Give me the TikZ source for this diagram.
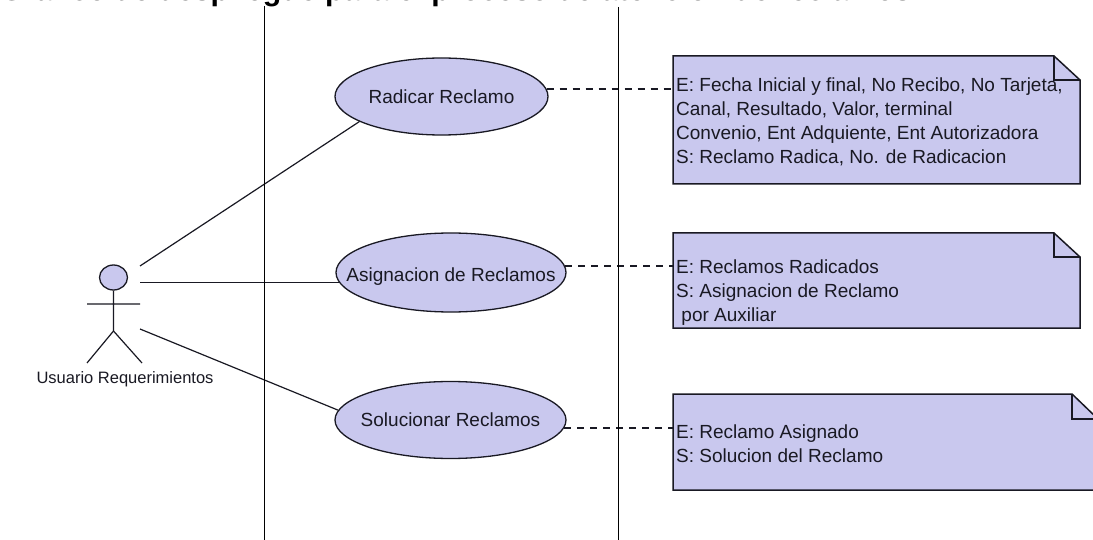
\documentclass[tikz,border=0pt]{standalone}
\usepackage{fontspec}
\setmainfont{Liberation Sans}
\usetikzlibrary{shapes.geometric}
\definecolor{umlfill}{RGB}{201,200,238}
\definecolor{umlline}{RGB}{25,25,35}
\newcommand{\caselabel}[1]{\makebox[0pt]{#1}}
\tikzset{
  usecase/.style={ellipse,draw=umlline,fill=umlfill,line width=1.3pt,inner sep=0pt,text height=13.5pt,text depth=0pt,font=\fontsize{19}{24}\selectfont,text=umlline},
  notebody/.style={draw=umlline,fill=umlfill,line width=1.5pt,line join=miter},
  notefold/.style={draw=umlline,line width=1.5pt},
  notetext/.style={anchor=north west,inner sep=0pt,align=left,font=\fontsize{19}{24}\selectfont,text=umlline},
  wire/.style={draw=umlline,line width=1.2pt},
  dashwire/.style={draw=umlline,line width=1.2pt,dash pattern=on 7pt off 6pt},
  lane/.style={draw=black,line width=1.5pt},
  stick/.style={draw=umlline,line width=1.2pt}
}
\begin{document}
\begin{tikzpicture}[x=1pt,y=-1pt]
\useasboundingbox (0,0) rectangle (1093,540);
\fill[white] (0,0) rectangle (1093,540);
\node[anchor=base west,inner sep=0pt,font=\bfseries\fontsize{30.3}{34}\selectfont] (title) at (0,0.8) {Grafico de despliegue para el proceso de atencion de reclamos};
% lanes
\coordinate (l1a) at (264.7,6); \coordinate (l1b) at (264.7,540);
\coordinate (l2a) at (618.5,7); \coordinate (l2b) at (618.5,540);
% notes
\path[notebody] (673,56) -- (1054,56) -- (1080,80) -- (1080,184) -- (673,184) -- cycle;
\path[notefold] (1054,56) -- (1054,80) -- (1080,80);
\path[notebody] (673,233) -- (1054,233) -- (1080,257) -- (1080,328) -- (673,328) -- cycle;
\path[notefold] (1054,233) -- (1054,257) -- (1080,257);
\path[notebody] (673,394) -- (1072,394) -- (1098,419) -- (1098,490) -- (673,490) -- cycle;
\path[notefold] (1072,394) -- (1072,419) -- (1098,419);
\node[notetext] (n1) at (676,78) {E: Fecha Inicial y final, No Recibo, No Tarjeta,\\Canal, Resultado, Valor, terminal\\Convenio, Ent Adquiente, Ent Autorizadora\\S: Reclamo Radica, No. de Radicacion};
\node[notetext] (n2) at (676,260) {E: Reclamos Radicados\\S: Asignacion de Reclamo\\\ por Auxiliar};
\node[notetext] (n3) at (676,425) {E: Reclamo Asignado\\S: Solucion del Reclamo};
\coordinate (n1w) at (673,89); \coordinate (n2w) at (673,266); \coordinate (n3w) at (673,428);
% use cases
\node[usecase,minimum width=213pt,minimum height=77pt] (e1) at (441.5,96.5) {\caselabel{Radicar Reclamo}};
\node[usecase,minimum width=230pt,minimum height=79pt] (e2) at (451,272.5) {\caselabel{\raisebox{-2.5pt}{Asignacion de Reclamos}}};
\node[usecase,minimum width=231pt,minimum height=77pt] (e3) at (450.5,420) {\caselabel{Solucionar Reclamos}};
% actor
\node[draw=umlline,fill=umlfill,line width=1.3pt,ellipse,minimum width=28pt,minimum height=25pt,inner sep=0pt] (head) at (113.5,277.5) {};
\coordinate (hip) at (113.5,331); \coordinate (armL) at (87,304); \coordinate (armR) at (140,304);
\coordinate (legL) at (87,363); \coordinate (legR) at (142,363);
\path[stick] (head.south) -- (hip) (armL) -- (armR) (legL) -- (hip) -- (legR);
\node[anchor=base,inner sep=0pt,font=\fontsize{16.5}{20}\selectfont,text=umlline] (actor) at (125,383) {Usuario Requerimientos};
\coordinate (a1) at (140,266); \coordinate (a2) at (140,282); \coordinate (a3) at (140,329);
% connectors
\path[wire] (a1) -- (e1.197);
\path[wire] (e2.185 -| a2) -- (e2.185);
\path[wire] (a3) -- (e3.175);
\path[dashwire] (e1.4 |- n1w) -- (n1w);
\path[dashwire] (e2.3 |- n2w) -- (n2w);
\path[dashwire] (e3.356 |- n3w) -- (n3w);
\path[lane] (l1a) -- (l1b);
\path[lane] (l2a) -- (l2b);
\end{tikzpicture}
\end{document}
